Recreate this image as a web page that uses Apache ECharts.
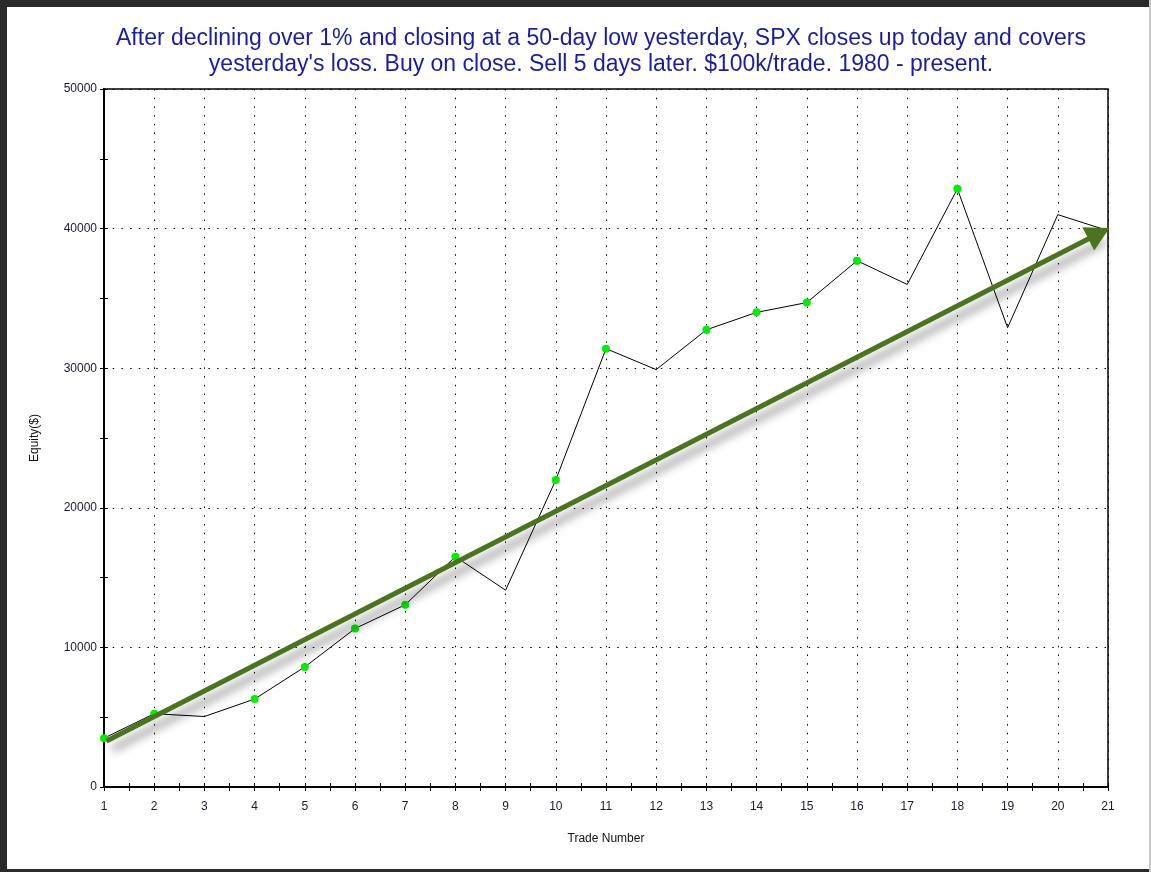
<!DOCTYPE html>
<html><head><meta charset="utf-8">
<script src="https://cdn.jsdelivr.net/npm/echarts@6/dist/echarts.min.js"></script>
<style>html,body{margin:0;padding:0;background:#fff}#c{width:1151px;height:872px}</style>
</head><body><div id="c"></div>
<script>
var trades = [1,2,3,4,5,6,7,8,9,10,11,12,13,14,15,16,17,18,19,20,21];
var equity = [3500,5250,5050,6300,8600,11350,13050,16500,14100,22000,31400,29900,32750,34000,34700,37700,36000,42850,32900,41000,39850];
var yTicks = [0,10000,20000,30000,40000,50000];
var trendStart = [1.05, 3300];
var trendEnd = [20.82, 39650];
var titleLines = ["After declining over 1% and closing at a 50-day low yesterday, SPX closes up today and covers",
                  "yesterday's loss. Buy on close. Sell 5 days later. $100k/trade. 1980 - present."];

var runMax = -Infinity;
var lineData = trades.map(function(t,i){
  var v = equity[i];
  var isHigh = v > runMax;
  if (isHigh) runMax = v;
  return isHigh ? {value:[t,v]} : {value:[t,v], symbol:'none'};
});

var chart = echarts.init(document.getElementById('c'), null, {renderer:'canvas'});
var font = '"Liberation Sans", Arial, sans-serif';
var gridBox = {left:104, right:43, top:89, bottom:85};
function xAxisDef(g, inside, labels){
  return {type:'value', min:trades[0], max:trades[trades.length-1], interval:1, gridIndex:g, position:'bottom',
    axisLine:{show:true, onZero:false, lineStyle:{color:'#000', width:2}},
    axisTick:{show:true, inside:inside, length:4, lineStyle:{color:'#000', width:1}},
    minorTick:{show:true, splitNumber:2, length:4, lineStyle:{color:'#000', width:1}},
    axisLabel:{show:labels, color:'#1a1a2a', fontFamily:font, fontSize:12, margin:14},
    splitLine:{show:labels, lineStyle:{color:'#000', width:1, type:[1.5,7.2]}},
    name: labels ? 'Trade Number' : '', nameLocation:'middle', nameGap:46,
    nameTextStyle:{color:'#111', fontFamily:font, fontSize:12}
  };
}
function yAxisDef(g, inside, labels){
  return {type:'value', min:yTicks[0], max:yTicks[yTicks.length-1], interval:yTicks[1]-yTicks[0], gridIndex:g, position:'left',
    axisLine:{show:true, onZero:false, lineStyle:{color:'#000', width:2}},
    axisTick:{show:true, inside:inside, length:4, lineStyle:{color:'#000', width:1}},
    minorTick:{show:true, splitNumber:2, length:4, lineStyle:{color:'#000', width:1}},
    axisLabel:{show:labels, color:'#1a1a2a', fontFamily:font, fontSize:12, margin:7,
      formatter:function(v){return String(v);}},
    splitLine:{show:labels, lineStyle:{color:'#000', width:1, type:[1.5,7.2]}},
    name: labels ? 'Equity($)' : '', nameLocation:'middle', nameGap:63, nameRotate:90,
    nameTextStyle:{color:'#111', fontFamily:font, fontSize:12}
  };
}

chart.setOption({
  animation:false,
  backgroundColor:'#fff',
  title:{
    text: titleLines.join('\n'), left:596, textAlign:'center', top:21,
    textStyle:{color:'#1c1ca0', fontFamily:font, fontSize:23, fontWeight:'normal', lineHeight:26}
  },
  grid:[
    Object.assign({show:true, borderColor:'#000', borderWidth:1.5, backgroundColor:'transparent'}, gridBox),
    Object.assign({show:false}, gridBox)
  ],
  xAxis:[xAxisDef(0,false,true), xAxisDef(1,true,false)],
  yAxis:[yAxisDef(0,false,true), yAxisDef(1,true,false)],
  graphic:[
    {type:'rect', shape:{x:0,y:0,width:1151,height:7}, style:{fill:'#2b2b2b'}, z:100},
    {type:'rect', shape:{x:0,y:0,width:7,height:872}, style:{fill:'#2b2b2b'}, z:100},
    {type:'rect', shape:{x:0,y:869,width:1151,height:3}, style:{fill:'#2b2b2b'}, z:100},
    {type:'rect', shape:{x:1149,y:0,width:2,height:872}, style:{fill:'#c8c8c8'}, z:100}
  ],
  series:[
    {type:'line', xAxisIndex:0, yAxisIndex:0, data:lineData, showAllSymbol:true,
      symbol:'circle', symbolSize:8, itemStyle:{color:'#00ee00', borderWidth:0},
      lineStyle:{color:'#000', width:1}, z:3,
      markLine:{silent:true, symbol:['none','triangle'], symbolSize:[26,24], animation:false,
        label:{show:false},
        lineStyle:{color:'#4a751e', width:5, type:'solid', shadowBlur:10, shadowColor:'rgba(0,0,0,0.45)', shadowOffsetX:6, shadowOffsetY:8},
        itemStyle:{color:'#4a751e'},
        emphasis:{disabled:true},
        data:[[{coord:trendStart},{coord:trendEnd}]]
      }
    }
  ]
});
</script></body></html>
